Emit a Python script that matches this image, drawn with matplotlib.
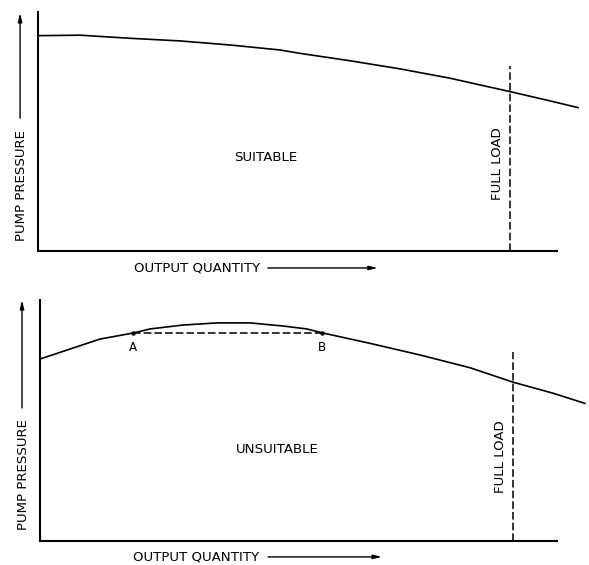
import matplotlib
matplotlib.use("Agg")
import matplotlib.pyplot as plt

# Pump characteristic curves: output quantity (% of full load) vs pump pressure (% of scale)
suitable_q = [0, 8.9, 19.5, 30.1, 40.7, 51.3, 55.5, 66.1, 76.7, 87.3, 93.6, 100.0, 108.5, 114.4]
suitable_p = [90.1, 90.3, 89.0, 87.9, 86.2, 84.1, 82.7, 79.6, 76.2, 72.3, 69.5, 66.7, 62.8, 60.0]

unsuitable_q = [0, 12.7, 19.7, 23.3, 30.2, 37.4, 44.4, 51.4, 56.4, 59.6, 69.8, 80.3, 90.9, 100.0, 108.5, 115.2]
unsuitable_p = [75.5, 83.8, 86.3, 88.0, 89.6, 90.5, 90.5, 89.2, 88.0, 86.4, 82.0, 77.2, 71.9, 65.9, 61.3, 57.1]

# Points A and B on the unstable curve (equal pressure)
ab_q = [19.7, 59.6]
ab_p = [86.3, 86.3]
ab_labels = ["A", "B"]

full_load_q = 100.0
panel_titles = ["SUITABLE", "UNSUITABLE"]
x_label = "OUTPUT QUANTITY"
y_label = "PUMP PRESSURE"

W, H = 589, 565
fig = plt.figure(figsize=(W / 100, H / 100), dpi=100)
fig.patch.set_facecolor("white")

FS = 9.6
LW_AX = 1.5
LW_CURVE = 1.2


def make_axes(left_px, bottom_px, px_per_q, px_per_p):
    xmax, ymax = 116.0, 100.0
    rect = [left_px / W, (H - bottom_px) / H,
            xmax * px_per_q / W, ymax * px_per_p / H]
    ax = fig.add_axes(rect)
    ax.set_xlim(0, xmax)
    ax.set_ylim(0, ymax)
    ax.set_xticks([])
    ax.set_yticks([])
    ax.patch.set_alpha(0)
    for s in ("top", "right"):
        ax.spines[s].set_visible(False)
    for s in ("left", "bottom"):
        ax.spines[s].set_linewidth(LW_AX)
        ax.spines[s].set_color("black")
    ax.spines["left"].set_bounds(0, 100)
    return ax


def decorate(ax, xspine_end, fl_top, label_pos, label_text, fl_label_p,
             ylab_p, yarrow, xlab_p, xlab_q, xarrow):
    ax.spines["bottom"].set_bounds(0, xspine_end)
    ax.plot([full_load_q, full_load_q], [0, fl_top], color="black",
            lw=1.1, ls=(0, (5, 2)), clip_on=False)
    ax.text(label_pos[0], label_pos[1], label_text, ha="center", va="center",
            fontsize=FS, color="black")
    ax.text(full_load_q - 2.6, fl_label_p, "FULL LOAD", rotation=90,
            ha="center", va="center", fontsize=FS, color="black")
    # vertical axis label with upward arrow
    ax.text(-3.5, ylab_p, y_label, rotation=90, ha="center", va="center",
            fontsize=FS, color="black", clip_on=False)
    ax.annotate("", xy=(-3.8, yarrow[1]), xytext=(-3.8, yarrow[0]),
                xycoords="data", annotation_clip=False,
                arrowprops=dict(arrowstyle="-|>,head_length=0.5,head_width=0.12",
                                lw=1.0, color="black", shrinkA=0, shrinkB=0))
    # horizontal axis label with arrow to the right
    ax.text(xlab_q, xlab_p, x_label, ha="center", va="center",
            fontsize=FS, color="black", clip_on=False)
    ax.annotate("", xy=(xarrow[1], xlab_p), xytext=(xarrow[0], xlab_p),
                xycoords="data", annotation_clip=False,
                arrowprops=dict(arrowstyle="-|>,head_length=0.5,head_width=0.12",
                                lw=1.0, color="black", shrinkA=0, shrinkB=0))


# Top panel: steadily falling characteristic
ax1 = make_axes(38, 251, 4.72, 2.39)
ax1.plot(suitable_q, suitable_p, color="black", lw=LW_CURVE, clip_on=False)
decorate(ax1, 110.0, 77.4, (48.3, 39.3), panel_titles[0], 36.4,
         27.6, (55.6, 99.6), -7.1, 33.8, (48.7, 72.0))

# Bottom panel: characteristic with a hump between A and B
ax2 = make_axes(40, 541, 4.73, 2.41)
ax2.plot(unsuitable_q, unsuitable_p, color="black", lw=LW_CURVE, clip_on=False)
ax2.plot(ab_q, ab_p, color="black", lw=1.1, ls=(0, (5, 2)))
ax2.plot(ab_q, ab_p, "o", color="black", ms=2.2)
for q, p, t in zip(ab_q, ab_p, ab_labels):
    ax2.text(q, p - 6.2, t, ha="center", va="center", fontsize=FS - 1, color="black")
decorate(ax2, 109.3, 78.4, (50.1, 37.8), panel_titles[1], 34.9,
         27.8, (55.2, 100.0), -6.6, 33.1, (48.2, 72.3))

fig.savefig("out.png", dpi=100, facecolor="white")
